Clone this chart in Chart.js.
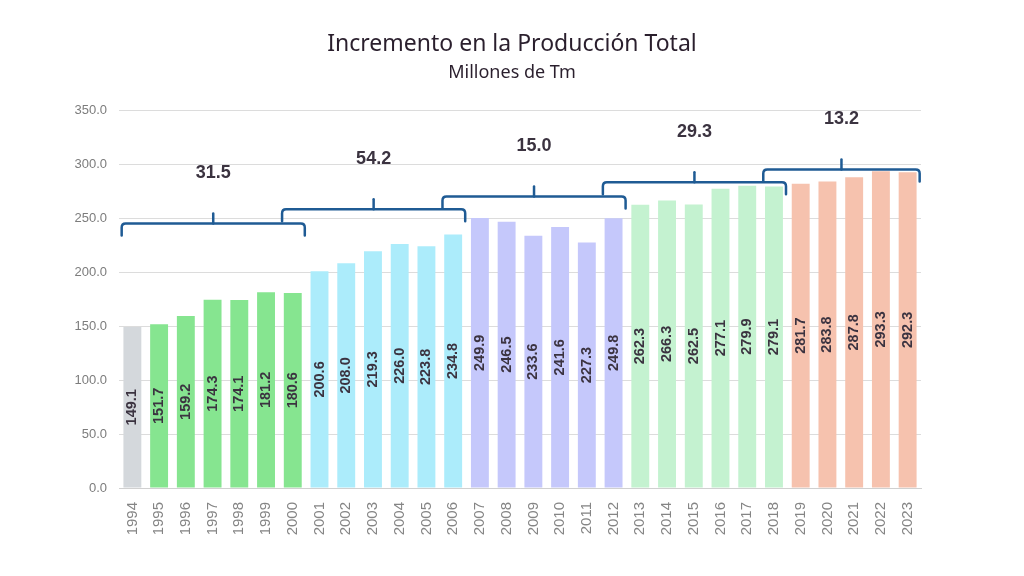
<!DOCTYPE html>
<html>
<head>
<meta charset="utf-8">
<script src="https://cdn.jsdelivr.net/npm/chart.js@4"></script>
<style>
    html, body { margin: 0; padding: 0; background: #ffffff; }
    #contenedor { width: 1024px; height: 576px; }
</style>
</head>
<body>
<div id="contenedor"><canvas id="grafico"></canvas></div>
<script>
//////////////////////////////////////////////////////////////////////////////////////
/// DATOS ////////////////////////////////////////////////////////////////////////////
//////////////////////////////////////////////////////////////////////////////////////
const anios = ["1994", "1995", "1996", "1997", "1998", "1999", "2000", "2001", "2002", "2003",
    "2004", "2005", "2006", "2007", "2008", "2009", "2010", "2011", "2012", "2013",
    "2014", "2015", "2016", "2017", "2018", "2019", "2020", "2021", "2022", "2023"];

const produccion = [149.1, 151.7, 159.2, 174.3, 174.1, 181.2, 180.6, 200.6, 208.0, 219.3,
    226.0, 223.8, 234.8, 249.9, 246.5, 233.6, 241.6, 227.3, 249.8, 262.3,
    266.3, 262.5, 277.1, 279.9, 279.1, 281.7, 283.8, 287.8, 293.3, 292.3];

// grupo de color de cada barra (0 = 1994, 1..5 = periodos)
const grupoBarra = [0, 1, 1, 1, 1, 1, 1, 2, 2, 2, 2, 2, 2, 3, 3, 3, 3, 3, 3, 4, 4, 4, 4, 4, 4, 5, 5, 5, 5, 5];
const coloresGrupo = ["#d4d8dc", "#86e590", "#acecfb", "#c5c8fb", "#c4f2d0", "#f6c2ae"];

// llaves de incremento por periodo
const llaveInicio = ["1994", "2000", "2006", "2012", "2018"];
const llaveFin = ["2000", "2006", "2012", "2018", "2023"];
const llaveNivel = [245, 258, 270, 283, 295];
const llaveTexto = ["31.5", "54.2", "15.0", "29.3", "13.2"];

const ticksY = [0, 50, 100, 150, 200, 250, 300, 350];

const titulo = "Incremento en la Producción Total";
const subtitulo = "Millones de Tm";

//////////////////////////////////////////////////////////////////////////////////////
/// PLUGINS //////////////////////////////////////////////////////////////////////////
//////////////////////////////////////////////////////////////////////////////////////
const etiquetasBarras = {
    id: "etiquetasBarras",
    afterDatasetsDraw(chart) {
        const ctx = chart.ctx;
        const meta = chart.getDatasetMeta(0);
        ctx.save();
        ctx.fillStyle = "#3b3340";
        ctx.font = "bold 14.5px 'Liberation Sans', Arial, sans-serif";
        ctx.textAlign = "center";
        ctx.textBaseline = "middle";
        meta.data.forEach((bar, i) => {
            const yMedio = (bar.y + bar.base) / 2;
            ctx.save();
            ctx.translate(bar.x, yMedio);
            ctx.rotate(-Math.PI / 2);
            ctx.fillText(produccion[i].toFixed(1), 0, 0);
            ctx.restore();
        });
        ctx.restore();
    }
};

const llaves = {
    id: "llaves",
    afterDatasetsDraw(chart) {
        const ctx = chart.ctx;
        const x = chart.scales.x;
        const y = chart.scales.y;
        const paso = x.getPixelForValue(1) - x.getPixelForValue(0);
        ctx.save();
        ctx.strokeStyle = "#1f5b94";
        ctx.lineWidth = 2.5;
        ctx.lineJoin = "round";
        ctx.lineCap = "round";
        llaveTexto.forEach((txt, i) => {
            const x1 = x.getPixelForValue(anios.indexOf(llaveInicio[i])) - paso * 0.4;
            const x2 = x.getPixelForValue(anios.indexOf(llaveFin[i])) + paso * 0.45;
            const xm = (x1 + x2) / 2;
            const yh = y.getPixelForValue(llaveNivel[i]);
            const r = 4;
            ctx.beginPath();
            ctx.moveTo(x1, yh + 12);
            ctx.lineTo(x1, yh + r);
            ctx.quadraticCurveTo(x1, yh, x1 + r, yh);
            ctx.lineTo(x2 - r, yh);
            ctx.quadraticCurveTo(x2, yh, x2, yh + r);
            ctx.lineTo(x2, yh + 12);
            ctx.stroke();
            ctx.beginPath();
            ctx.moveTo(xm, yh);
            ctx.lineTo(xm, yh - 10);
            ctx.stroke();

            ctx.fillStyle = "#3b3340";
            ctx.font = "bold 18px 'Liberation Sans', Arial, sans-serif";
            ctx.textAlign = "center";
            ctx.textBaseline = "middle";
            ctx.fillText(txt, xm, yh - 50);
        });
        ctx.restore();
    }
};

// titulo centrado en el lienzo completo
const encabezado = {
    id: "encabezado",
    afterDraw(chart) {
        const ctx = chart.ctx;
        const centro = chart.width / 2;
        ctx.save();
        ctx.fillStyle = "#2a1f2d";
        ctx.textAlign = "center";
        ctx.textBaseline = "middle";
        ctx.font = "23px 'Noto Sans', sans-serif";
        ctx.fillText(titulo, centro, 44);
        ctx.font = "18px 'Noto Sans', sans-serif";
        ctx.fillText(subtitulo, centro, 73);
        ctx.restore();
    }
};

//////////////////////////////////////////////////////////////////////////////////////
/// GRAFICO //////////////////////////////////////////////////////////////////////////
//////////////////////////////////////////////////////////////////////////////////////
const ctx = document.getElementById("grafico").getContext("2d");

new Chart(ctx, {
    type: "bar",
    data: {
        labels: anios,
        datasets: [{
            data: produccion,
            backgroundColor: grupoBarra.map(g => coloresGrupo[g]),
            borderWidth: 0,
            barPercentage: 0.67,
            categoryPercentage: 1.0
        }]
    },
    options: {
        responsive: true,
        maintainAspectRatio: false,
        animation: false,
        layout: { padding: { left: 58, right: 103, top: 110, bottom: 34 } },
        plugins: {
            legend: { display: false },
            tooltip: { enabled: false },
            title: { display: false },
            subtitle: { display: false }
        },
        scales: {
            x: {
                grid: { display: false },
                border: { display: true, color: "#d0d0d0" },
                ticks: {
                    color: "#858585",
                    font: { size: 15, family: "'Liberation Sans', Arial, sans-serif" },
                    maxRotation: 90,
                    minRotation: 90,
                    autoSkip: false,
                    padding: 6
                },
                afterFit(scale) { scale.height = 54; }
            },
            y: {
                min: 0,
                max: 350,
                afterBuildTicks(scale) { scale.ticks = ticksY.map(v => ({ value: v })); },
                grid: { color: "#dcdcdc", drawTicks: false, lineWidth: 1 },
                border: { display: false },
                ticks: {
                    color: "#7c7c7c",
                    font: { size: 13, family: "'Liberation Sans', Arial, sans-serif" },
                    padding: 12,
                    callback: v => Number(v).toFixed(1)
                },
                afterFit(scale) { scale.width = 61; }
            }
        }
    },
    plugins: [llaves, etiquetasBarras, encabezado]
});
</script>
</body>
</html>
